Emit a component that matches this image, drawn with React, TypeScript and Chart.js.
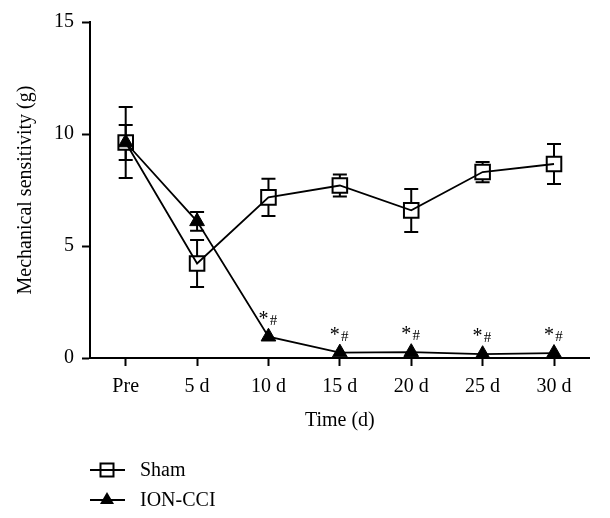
import React, { useEffect, useRef } from 'react';
import { Chart, registerables } from 'chart.js';

Chart.register(...registerables);

const categories = ['Pre', '5 d', '10 d', '15 d', '20 d', '25 d', '30 d'];
const shamValues = [9.62, 4.22, 7.17, 7.7, 6.59, 8.3, 8.66];
const shamErrors = [1.58, 1.05, 0.83, 0.49, 0.96, 0.45, 0.89];
const ionValues = [9.62, 6.1, 0.95, 0.24, 0.26, 0.17, 0.22];
const ionErrors = [0.78, 0.42, 0, 0, 0, 0, 0];
const ionSignificance = ['', '', '*#', '*#', '*#', '*#', '*#'];
const yTicks = [0, 5, 10, 15];
const seriesNames = ['Sham', 'ION-CCI'];

const FONT = "'Liberation Serif', 'Times New Roman', serif";

const customPlugin = {
  id: 'customDraw',
  beforeDatasetsDraw(chart: any) {
    const ctx = chart.ctx;
    const xs = chart.scales.x;
    const ys = chart.scales.y;
    ctx.save();
    ctx.strokeStyle = '#000';
    ctx.lineWidth = 2;
    const drawErr = (vals: number[], errs: number[]) => {
      vals.forEach((v, i) => {
        const e = errs[i];
        if (!e) return;
        const px = xs.getPixelForValue(i);
        const top = ys.getPixelForValue(v + e);
        const bot = ys.getPixelForValue(v - e);
        ctx.beginPath();
        ctx.moveTo(px, top);
        ctx.lineTo(px, bot);
        ctx.moveTo(px - 7, top);
        ctx.lineTo(px + 7, top);
        ctx.moveTo(px - 7, bot);
        ctx.lineTo(px + 7, bot);
        ctx.stroke();
      });
    };
    drawErr(shamValues, shamErrors);
    drawErr(ionValues, ionErrors);
    ctx.restore();
  },
  afterDraw(chart: any) {
    const ctx = chart.ctx;
    const xs = chart.scales.x;
    const ys = chart.scales.y;
    ctx.save();
    ctx.fillStyle = '#000';
    ctx.textBaseline = 'alphabetic';
    ctx.textAlign = 'center';
    ionSignificance.forEach((s, i) => {
      if (!s) return;
      const px = xs.getPixelForValue(i);
      const py = ys.getPixelForValue(ionValues[i]);
      ctx.font = `20px ${FONT}`;
      ctx.fillText(s[0], px - 5, py - 12);
      ctx.font = `15px ${FONT}`;
      ctx.fillText(s.slice(1), px + 5, py - 12);
    });

    // legend
    const lx0 = 82;
    const lx1 = 117;
    const mx = 99;
    const rows = [462, 492];
    ctx.strokeStyle = '#000';
    ctx.lineWidth = 2;
    rows.forEach((ry, k) => {
      ctx.beginPath();
      ctx.moveTo(lx0, ry);
      ctx.lineTo(lx1, ry);
      ctx.stroke();
      if (k === 0) {
        ctx.fillStyle = '#fff';
        ctx.fillRect(mx - 6.5, ry - 6.5, 13, 13);
        ctx.strokeRect(mx - 6.5, ry - 6.5, 13, 13);
        ctx.beginPath();
        ctx.moveTo(lx0, ry);
        ctx.lineTo(lx1, ry);
        ctx.stroke();
      } else {
        ctx.fillStyle = '#000';
        ctx.beginPath();
        ctx.moveTo(mx, ry - 8);
        ctx.lineTo(mx + 7, ry + 4);
        ctx.lineTo(mx - 7, ry + 4);
        ctx.closePath();
        ctx.fill();
      }
      ctx.fillStyle = '#000';
      ctx.font = `20px ${FONT}`;
      ctx.textAlign = 'left';
      ctx.textBaseline = 'middle';
      ctx.fillText(seriesNames[k], 132, ry + 1);
    });
    ctx.restore();
  },
};

export default function App() {
  const canvasRef = useRef<HTMLCanvasElement | null>(null);

  useEffect(() => {
    if (!canvasRef.current) return;
    const chart = new Chart(canvasRef.current, {
      type: 'line',
      data: {
        labels: categories,
        datasets: [
          {
            label: 'ION-CCI',
            data: ionValues,
            borderColor: '#000',
            borderWidth: 1.8,
            pointStyle: 'triangle',
            pointRadius: 8.5,
            pointBackgroundColor: '#000',
            pointBorderColor: '#000',
            pointBorderWidth: 1,
            tension: 0,
            order: 1,
          },
          {
            label: 'Sham line',
            data: shamValues,
            borderColor: '#000',
            borderWidth: 1.8,
            pointRadius: 0,
            tension: 0,
            order: 2,
          },
          {
            label: 'Sham',
            data: shamValues,
            showLine: false,
            borderColor: '#000',
            pointStyle: 'rect',
            pointRadius: 10.3,
            pointBackgroundColor: '#fff',
            pointBorderColor: '#000',
            pointBorderWidth: 2,
            order: 3,
          },
        ],
      },
      options: {
        animation: false,
        responsive: true,
        maintainAspectRatio: false,
        layout: { padding: { top: 14, right: 8, left: 0, bottom: 0 } },
        plugins: {
          legend: { display: false },
          tooltip: { enabled: false },
        },
        scales: {
          x: {
            type: 'category',
            offset: true,
            grid: {
              display: true,
              drawOnChartArea: false,
              drawTicks: true,
              tickLength: 8,
              tickWidth: 2,
              color: '#000',
              offset: false,
            },
            border: { display: true, color: '#000', width: 2 },
            ticks: {
              color: '#000',
              font: { family: FONT, size: 20 },
              padding: 9,
              maxRotation: 0,
            },
            title: {
              display: true,
              text: 'Time (d)',
              color: '#000',
              font: { family: FONT, size: 20 },
              padding: { top: 0, bottom: 77 },
            },
            afterFit(scale: any) {
              scale.height = 152;
              scale.paddingLeft = 0;
              scale.paddingRight = 0;
            },
          },
          y: {
            min: 0,
            max: 15,
            afterBuildTicks(scale: any) {
              scale.ticks = yTicks.map((v) => ({ value: v }));
            },
            grid: {
              display: true,
              drawOnChartArea: false,
              drawTicks: true,
              tickLength: 8,
              tickWidth: 2,
              color: '#000',
            },
            border: { display: true, color: '#000', width: 2 },
            ticks: {
              color: '#000',
              font: { family: FONT, size: 20 },
              padding: 8,
            },
            title: {
              display: true,
              text: 'Mechanical sensitivity (g)',
              color: '#000',
              font: { family: FONT, size: 20 },
              padding: { top: 6, bottom: 0 },
            },
            afterFit(scale: any) {
              scale.width = 82;
              scale.paddingTop = 0;
              scale.paddingBottom = 0;
            },
          },
        },
      },
      plugins: [customPlugin],
    });
    return () => chart.destroy();
  }, []);

  return (
    <div style={{ width: 594, height: 502, position: 'relative' }}>
      <canvas ref={canvasRef} />
    </div>
  );
}
